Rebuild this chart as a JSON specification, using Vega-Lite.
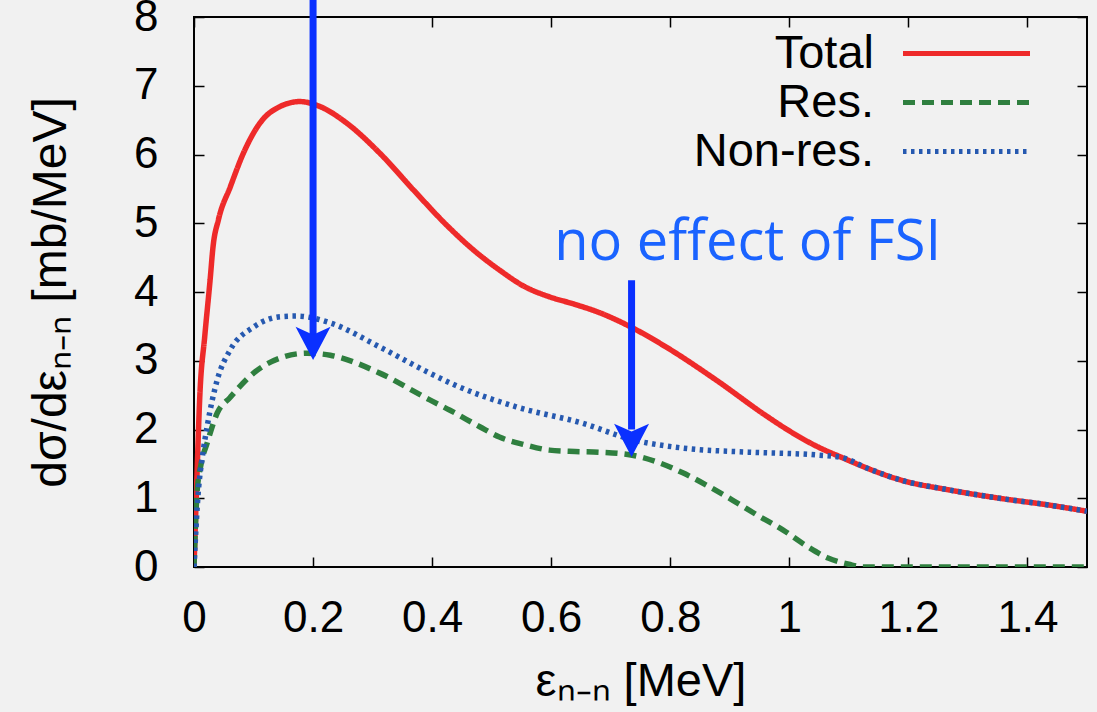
{
  "$schema": "https://vega.github.io/schema/vega-lite/v6.json",
  "width": 893,
  "height": 550,
  "autosize": {"type": "none"},
  "padding": {"left": 194, "top": 17, "right": 10, "bottom": 145},
  "background": "#f1f1f1",
  "datasets": {
    "curves": [
      {"x": 0, "y": 0, "series": "Total"},
      {"x": 0.004, "y": 1.07, "series": "Total"},
      {"x": 0.01, "y": 2.53, "series": "Total"},
      {"x": 0.018, "y": 3.35, "series": "Total"},
      {"x": 0.027, "y": 4.17, "series": "Total"},
      {"x": 0.032, "y": 4.66, "series": "Total"},
      {"x": 0.041, "y": 5.05, "series": "Total"},
      {"x": 0.061, "y": 5.53, "series": "Total"},
      {"x": 0.083, "y": 6.02, "series": "Total"},
      {"x": 0.111, "y": 6.46, "series": "Total"},
      {"x": 0.145, "y": 6.7, "series": "Total"},
      {"x": 0.178, "y": 6.77, "series": "Total"},
      {"x": 0.211, "y": 6.7, "series": "Total"},
      {"x": 0.256, "y": 6.46, "series": "Total"},
      {"x": 0.312, "y": 6.02, "series": "Total"},
      {"x": 0.368, "y": 5.49, "series": "Total"},
      {"x": 0.427, "y": 4.95, "series": "Total"},
      {"x": 0.471, "y": 4.6, "series": "Total"},
      {"x": 0.513, "y": 4.32, "series": "Total"},
      {"x": 0.555, "y": 4.08, "series": "Total"},
      {"x": 0.597, "y": 3.93, "series": "Total"},
      {"x": 0.64, "y": 3.82, "series": "Total"},
      {"x": 0.681, "y": 3.7, "series": "Total"},
      {"x": 0.734, "y": 3.49, "series": "Total"},
      {"x": 0.793, "y": 3.2, "series": "Total"},
      {"x": 0.877, "y": 2.72, "series": "Total"},
      {"x": 0.961, "y": 2.2, "series": "Total"},
      {"x": 1.0, "y": 1.98, "series": "Total"},
      {"x": 1.045, "y": 1.76, "series": "Total"},
      {"x": 1.089, "y": 1.59, "series": "Total"},
      {"x": 1.13, "y": 1.44, "series": "Total"},
      {"x": 1.185, "y": 1.27, "series": "Total"},
      {"x": 1.269, "y": 1.12, "series": "Total"},
      {"x": 1.353, "y": 1.0, "series": "Total"},
      {"x": 1.437, "y": 0.9, "series": "Total"},
      {"x": 1.5, "y": 0.81, "series": "Total"},
      {"x": 0, "y": 0, "series": "Res."},
      {"x": 0.005, "y": 1.07, "series": "Res."},
      {"x": 0.012, "y": 1.5, "series": "Res."},
      {"x": 0.022, "y": 1.8, "series": "Res."},
      {"x": 0.039, "y": 2.24, "series": "Res."},
      {"x": 0.061, "y": 2.47, "series": "Res."},
      {"x": 0.1, "y": 2.82, "series": "Res."},
      {"x": 0.145, "y": 3.04, "series": "Res."},
      {"x": 0.19, "y": 3.11, "series": "Res."},
      {"x": 0.229, "y": 3.08, "series": "Res."},
      {"x": 0.312, "y": 2.82, "series": "Res."},
      {"x": 0.396, "y": 2.43, "series": "Res."},
      {"x": 0.43, "y": 2.28, "series": "Res."},
      {"x": 0.48, "y": 2.04, "series": "Res."},
      {"x": 0.513, "y": 1.89, "series": "Res."},
      {"x": 0.555, "y": 1.78, "series": "Res."},
      {"x": 0.597, "y": 1.7, "series": "Res."},
      {"x": 0.64, "y": 1.68, "series": "Res."},
      {"x": 0.681, "y": 1.67, "series": "Res."},
      {"x": 0.734, "y": 1.63, "series": "Res."},
      {"x": 0.78, "y": 1.52, "series": "Res."},
      {"x": 0.821, "y": 1.37, "series": "Res."},
      {"x": 0.863, "y": 1.18, "series": "Res."},
      {"x": 0.905, "y": 0.97, "series": "Res."},
      {"x": 0.947, "y": 0.75, "series": "Res."},
      {"x": 0.989, "y": 0.54, "series": "Res."},
      {"x": 1.03, "y": 0.3, "series": "Res."},
      {"x": 1.065, "y": 0.13, "series": "Res."},
      {"x": 1.1, "y": 0.04, "series": "Res."},
      {"x": 1.125, "y": 0, "series": "Res."},
      {"x": 1.3, "y": 0, "series": "Res."},
      {"x": 1.5, "y": 0, "series": "Res."},
      {"x": 0, "y": 0, "series": "Non-res."},
      {"x": 0.007, "y": 1.07, "series": "Non-res."},
      {"x": 0.014, "y": 1.6, "series": "Non-res."},
      {"x": 0.022, "y": 2.04, "series": "Non-res."},
      {"x": 0.039, "y": 2.72, "series": "Non-res."},
      {"x": 0.061, "y": 3.16, "series": "Non-res."},
      {"x": 0.1, "y": 3.49, "series": "Non-res."},
      {"x": 0.145, "y": 3.64, "series": "Non-res."},
      {"x": 0.173, "y": 3.65, "series": "Non-res."},
      {"x": 0.229, "y": 3.55, "series": "Non-res."},
      {"x": 0.312, "y": 3.2, "series": "Non-res."},
      {"x": 0.396, "y": 2.82, "series": "Non-res."},
      {"x": 0.44, "y": 2.64, "series": "Non-res."},
      {"x": 0.541, "y": 2.33, "series": "Non-res."},
      {"x": 0.653, "y": 2.09, "series": "Non-res."},
      {"x": 0.737, "y": 1.85, "series": "Non-res."},
      {"x": 0.821, "y": 1.73, "series": "Non-res."},
      {"x": 0.933, "y": 1.67, "series": "Non-res."},
      {"x": 1.045, "y": 1.63, "series": "Non-res."},
      {"x": 1.089, "y": 1.59, "series": "Non-res."},
      {"x": 1.13, "y": 1.44, "series": "Non-res."},
      {"x": 1.185, "y": 1.27, "series": "Non-res."},
      {"x": 1.269, "y": 1.12, "series": "Non-res."},
      {"x": 1.353, "y": 1.0, "series": "Non-res."},
      {"x": 1.437, "y": 0.9, "series": "Non-res."},
      {"x": 1.5, "y": 0.81, "series": "Non-res."}
    ],
    "arrows": [
      {"x": 0.2, "top": 8.25, "bottom": 3.3, "head": 3.24},
      {"x": 0.735, "top": 4.17, "bottom": 2.0, "head": 1.83}
    ],
    "notes": [
      {"x": 0.93, "y": 4.72, "label": "no effect of FSI"}
    ]
  },
  "layer": [
    {
      "data": {"name": "curves"},
      "mark": {"type": "line", "interpolate": "monotone", "strokeWidth": 5.5, "clip": true},
      "encoding": {
        "x": {
          "field": "x", "type": "quantitative",
          "scale": {"domain": [0, 1.5], "nice": false, "zero": false},
          "axis": {
            "orient": "bottom",
            "title": "εₙ₋ₙ [MeV]",
            "titleFontSize": 47,
            "values": [0, 0.2, 0.4, 0.6, 0.8, 1, 1.2, 1.4],
            "format": "~g",
            "labelPadding": 39,
            "titlePadding": 18
          }
        },
        "y": {
          "field": "y", "type": "quantitative",
          "scale": {"domain": [0, 8], "nice": false, "zero": false},
          "axis": {
            "orient": "left",
            "title": "dσ/dεₙ₋ₙ [mb/MeV]",
            "titleFontSize": 48,
            "values": [0, 1, 2, 3, 4, 5, 6, 7, 8],
            "format": "d",
            "labelPadding": 46,
            "titlePadding": 58
          }
        },
        "color": {
          "field": "series", "type": "nominal",
          "scale": {"domain": ["Total", "Res.", "Non-res."], "range": ["#ee2a2a", "#2f7f3f", "#2659b0"]},
          "legend": {
            "orient": "none",
            "legendX": 749,
            "legendY": 13,
            "title": null,
            "padding": 0,
            "symbolType": "M-4,0H4",
            "symbolSize": 1008,
            "symbolStrokeWidth": 5,
            "labelFontSize": 47,
            "labelFont": "Liberation Sans",
            "labelColor": "black",
            "labelAlign": "right",
            "labelOffset": -116,
            "labelLimit": 400,
            "rowPadding": 1
          }
        },
        "strokeDash": {
          "field": "series", "type": "nominal",
          "scale": {"domain": ["Total", "Res.", "Non-res."], "range": [[1, 0], [12, 7], [3.5, 4.5]]},
          "legend": null
        }
      }
    },
    {
      "data": {"name": "arrows"},
      "mark": {"type": "rule", "color": "#0a30ff", "strokeWidth": 7},
      "encoding": {
        "x": {
          "field": "x", "type": "quantitative",
          "axis": {"orient": "top", "labels": false, "title": null, "values": [0, 0.2, 0.4, 0.6, 0.8, 1, 1.2, 1.4]}
        },
        "y": {
          "field": "top", "type": "quantitative",
          "axis": {"orient": "right", "labels": false, "title": null, "values": [0, 1, 2, 3, 4, 5, 6, 7, 8]}
        },
        "y2": {"field": "bottom"}
      }
    },
    {
      "data": {"name": "arrows"},
      "mark": {"type": "point", "shape": "M-1,-1L0,0.9L1,-1L0,-0.55Z", "filled": true, "color": "#0a30ff", "size": 1225, "opacity": 1},
      "encoding": {
        "x": {"field": "x", "type": "quantitative", "axis": null},
        "y": {"field": "head", "type": "quantitative", "axis": null}
      }
    },
    {
      "data": {"name": "notes"},
      "mark": {"type": "text", "font": "Open Sans", "fontSize": 56, "color": "#1a63ff", "align": "center", "baseline": "middle"},
      "encoding": {
        "x": {"field": "x", "type": "quantitative", "axis": null},
        "y": {"field": "y", "type": "quantitative", "axis": null},
        "text": {"field": "label"}
      }
    }
  ],
  "resolve": {"axis": {"x": "independent", "y": "independent"}},
  "config": {
    "view": {"stroke": "black", "strokeWidth": 2},
    "axis": {
      "domain": false,
      "grid": false,
      "tickSize": -10,
      "tickColor": "black",
      "tickWidth": 1.5,
      "labelFont": "Liberation Sans",
      "labelFontSize": 44,
      "labelColor": "black",
      "labelFlush": false,
      "labelOverlap": false,
      "labelBound": false,
      "titleFont": "Liberation Sans",
      "titleFontSize": 44,
      "titleFontWeight": "normal",
      "titleColor": "black"
    }
  }
}
